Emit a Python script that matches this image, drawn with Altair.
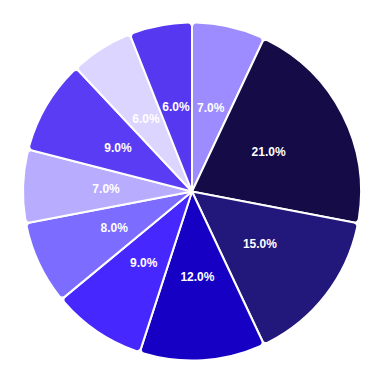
import altair as alt
import pandas as pd

categories = ["A", "B", "C", "D", "E", "F", "G", "H", "I", "J"]
values = [7, 21, 15, 12, 9, 8, 7, 9, 6, 6]
colors = ["#9d8cff", "#140b47", "#22177a", "#1500c4", "#4628ff",
          "#7c6cff", "#b8acff", "#5a3cf5", "#dcd5ff", "#5538f0"]

df = pd.DataFrame({
    "category": categories,
    "value": values,
    "idx": list(range(len(categories))),
    "label": [f"{v:.1f}%" for v in values],
})

base = alt.Chart(df).encode(
    theta=alt.Theta("value:Q", stack=True),
    order=alt.Order("idx:Q"),
)

arcs = base.mark_arc(outerRadius=169, stroke="white", strokeWidth=2, cornerRadius=4).encode(
    color=alt.Color("category:N", scale=alt.Scale(domain=categories, range=colors), legend=None)
)

text = base.mark_text(radius=86, fontSize=12, fontWeight="bold", color="white",
                      font="Arial").encode(text="label:N")

chart = (arcs + text).properties(width=368, height=367, padding=0).configure_view(stroke=None)

chart.save("out.html", embed_options={"renderer": "svg", "actions": False})
